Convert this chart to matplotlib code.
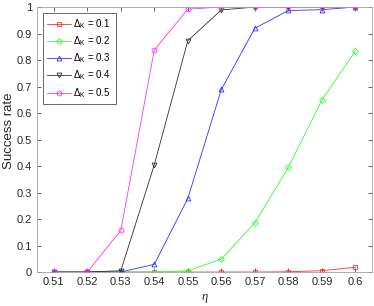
import numpy as np
import matplotlib
matplotlib.use("Agg")
import matplotlib.pyplot as plt

plt.rcParams['font.family'] = ['Liberation Sans', 'DejaVu Sans']
plt.rcParams['mathtext.fontset'] = 'custom'
plt.rcParams['mathtext.rm'] = 'Liberation Sans'
plt.rcParams['mathtext.it'] = 'Liberation Serif:italic'

eta = [0.51, 0.52, 0.53, 0.54, 0.55, 0.56, 0.57, 0.58, 0.59, 0.60]
rate_01 = [0, 0, 0, 0, 0, 0, 0, 0.001, 0.005, 0.018]
rate_02 = [0, 0, 0, 0, 0.005, 0.049, 0.186, 0.395, 0.649, 0.834]
rate_03 = [0, 0, 0, 0.029, 0.278, 0.689, 0.92, 0.987, 0.99, 1.0]
rate_04 = [0, 0, 0.005, 0.405, 0.873, 0.989, 1.0, 1.0, 1.0, 1.0]
rate_05 = [0, 0, 0.157, 0.838, 0.992, 1.0, 1.0, 1.0, 1.0, 1.0]

series = [
    (rate_01, 'r', 's', '0.1'),
    (rate_02, 'g', 'D', '0.2'),
    (rate_03, 'b', '^', '0.3'),
    (rate_04, 'k', 'v', '0.4'),
    (rate_05, 'm', 'o', '0.5'),
]
colors = {'r': '#ff3030', 'g': '#30ff30', 'b': '#3030ff', 'k': '#303030', 'm': '#ff30ff'}

fig = plt.figure(figsize=(3.74, 3.06), dpi=100)
ax = fig.add_axes([0.099, 0.111, 0.896, 0.866])

for y, c, m, lab in series:
    ms = 3.0 if m == 'D' else 3.5
    ax.plot(eta, y, color=colors[c], marker=m, markersize=ms, markerfacecolor='none',
            linewidth=0.6, markeredgewidth=0.6, label=r'$\Delta_{\mathrm{K}}$ = ' + lab)

ax.set_xlim(0.505, 0.605)
ax.set_ylim(0, 1)
ax.set_xticks(eta)
ax.set_xticklabels(['0.51', '0.52', '0.53', '0.54', '0.55', '0.56', '0.57', '0.58', '0.59', '0.6'])
ax.set_yticks(np.arange(0, 1.01, 0.1))
ax.set_yticklabels(['0', '0.1', '0.2', '0.3', '0.4', '0.5', '0.6', '0.7', '0.8', '0.9', '1'])
ax.tick_params(direction='in', top=True, right=True, labelsize=8, colors='#262626',
               length=3, width=0.5)
for s in ax.spines.values():
    s.set_color('#a0a0a0')
    s.set_linewidth(0.6)

ax.set_xlabel(r'$\eta$', fontsize=9, color='#262626')
ax.set_ylabel('Success rate', fontsize=9.5, color='#262626', labelpad=2)
ax.yaxis.set_label_coords(-0.066, 0.535)

leg = ax.legend(loc='upper left', fontsize=7, fancybox=False, edgecolor='#262626',
                handlelength=2.4, borderaxespad=0.6, labelspacing=0.38, handletextpad=0.3,
                borderpad=0.45)
leg.get_frame().set_linewidth(0.6)

fig.savefig('out.png', dpi=100)
